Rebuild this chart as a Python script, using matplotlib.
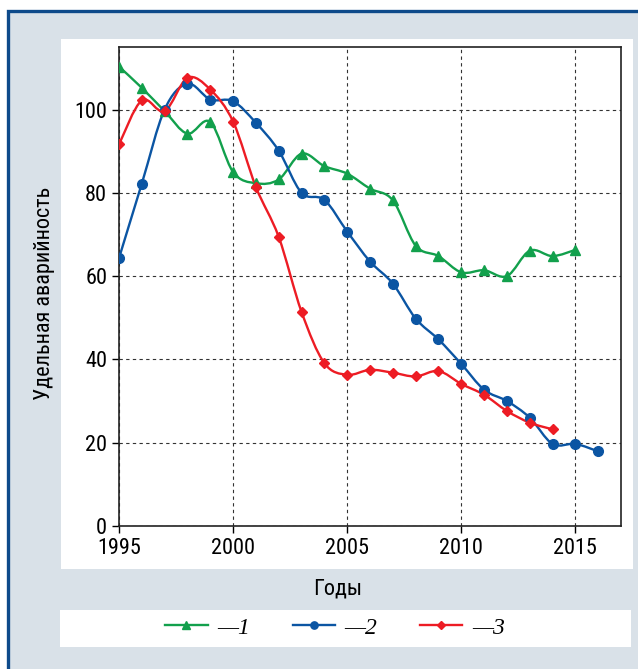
import matplotlib
matplotlib.use('Agg')
import matplotlib.pyplot as plt
from matplotlib.patches import Rectangle, PathPatch
from matplotlib.path import Path
from matplotlib.lines import Line2D
from matplotlib import font_manager

# condensed sans for the labels, first one that is installed
installed = {f.name for f in font_manager.fontManager.ttflist}
narrow = next((n for n in ['Liberation Sans Narrow', 'Roboto Condensed', 'Arimo Narrow',
                           'PT Sans Narrow', 'Archivo Narrow', 'Open Sans Condensed',
                           'Pragati Narrow', 'DejaVu Sans'] if n in installed), 'DejaVu Sans')
plt.rcParams['font.family'] = [narrow, 'DejaVu Sans']

years_1 = list(range(1995, 2016))
series_1 = [110.3, 105.2, 99.6, 94.2, 97.0, 85.0, 82.3, 83.2, 89.4, 86.4, 84.6,
            81.0, 78.2, 67.3, 64.8, 60.9, 61.4, 60.0, 66.1, 64.8, 66.3]
years_2 = list(range(1995, 2017))
series_2 = [64.3, 82.2, 100.0, 106.2, 102.4, 102.0, 96.8, 90.1, 80.0, 78.3, 70.7,
            63.5, 58.2, 49.8, 44.8, 38.9, 32.7, 30.0, 26.0, 19.7, 19.7, 17.9]
years_3 = list(range(1995, 2015))
series_3 = [91.6, 102.2, 99.6, 107.6, 104.8, 97.1, 81.4, 69.4, 51.4, 39.1, 36.3,
            37.5, 36.8, 35.9, 37.2, 34.1, 31.5, 27.6, 24.8, 23.2]

labels = ['—1', '—2', '—3']
colors = ['#12a04c', '#0b55a3', '#ed1c24']
markers = ['^', 'o', 'D']
msizes = [7, 7, 5]

x_ticks = [1995, 2000, 2005, 2010, 2015]
y_ticks = [0, 20, 40, 60, 80, 100]


def smooth_path(xs, ys):
    # Catmull-Rom curve through the points, as cubic Bezier segments
    pts = list(zip(xs, ys))
    ext = [pts[0]] + pts + [pts[-1]]
    verts = [pts[0]]
    codes = [Path.MOVETO]
    for i in range(1, len(ext) - 2):
        p0, p1, p2, p3 = ext[i - 1], ext[i], ext[i + 1], ext[i + 2]
        c1 = (p1[0] + (p2[0] - p0[0]) / 6, p1[1] + (p2[1] - p0[1]) / 6)
        c2 = (p2[0] - (p3[0] - p1[0]) / 6, p2[1] - (p3[1] - p1[1]) / 6)
        verts += [c1, c2, p2]
        codes += [Path.CURVE4] * 3
    return Path(verts, codes)


fig = plt.figure(figsize=(6.38, 6.69), dpi=100)
fig.patch.set_facecolor('white')

# outer frame
fig.patches.append(Rectangle((0.0125, -0.05), 1.1, 1.0336, transform=fig.transFigure,
                             facecolor='#d9e1e8', edgecolor='#0d4a8a', linewidth=2.4, zorder=0))
# white panels
fig.patches.append(Rectangle((0.0956, 0.1495), 0.8966, 0.7922, transform=fig.transFigure,
                             facecolor='white', edgecolor='none', zorder=1))
fig.patches.append(Rectangle((0.094, 0.0329), 0.895, 0.0553, transform=fig.transFigure,
                             facecolor='white', edgecolor='none', zorder=1))

ax = fig.add_axes([0.1865, 0.2138, 0.7869, 0.7159])
ax.set_zorder(3)
ax.set_xlim(1995, 2017)
ax.set_ylim(0, 115)

handles = []
for xs, ys, c, m, ms, lab in zip([years_1, years_2, years_3], [series_1, series_2, series_3],
                                 colors, markers, msizes, labels):
    ax.add_patch(PathPatch(smooth_path(xs, ys), facecolor='none', edgecolor=c,
                           linewidth=1.7, zorder=3))
    ax.plot(xs, ys, linestyle='none', marker=m, color=c, markersize=ms, zorder=4)
    handles.append(Line2D([], [], color=c, marker=m, markersize=ms * 0.75, linewidth=1.7, label=lab))

ax.set_xticks(x_ticks)
ax.set_yticks(y_ticks)
ax.tick_params(labelsize=16, direction='out', length=5, width=1, colors='black')
ax.grid(True, color='#333333', linestyle=(0, (3, 3)), linewidth=0.8)
for s in ax.spines.values():
    s.set_linewidth(1.2)
    s.set_color('#222222')

ax.set_ylabel('Удельная аварийность', fontsize=16)
ax.yaxis.set_label_coords(-0.128, 0.485)
ax.set_xlabel('Годы', fontsize=16)
ax.xaxis.set_label_coords(0.436, -0.11)

leg = fig.legend(handles=handles, loc='center', bbox_to_anchor=(0.525, 0.0613), ncol=3,
                 frameon=False, handlelength=1.8, handletextpad=0.4, columnspacing=1.8,
                 prop={'family': 'Liberation Serif', 'style': 'italic', 'size': 17})
leg.set_zorder(3)

fig.savefig('out.png', dpi=100)
